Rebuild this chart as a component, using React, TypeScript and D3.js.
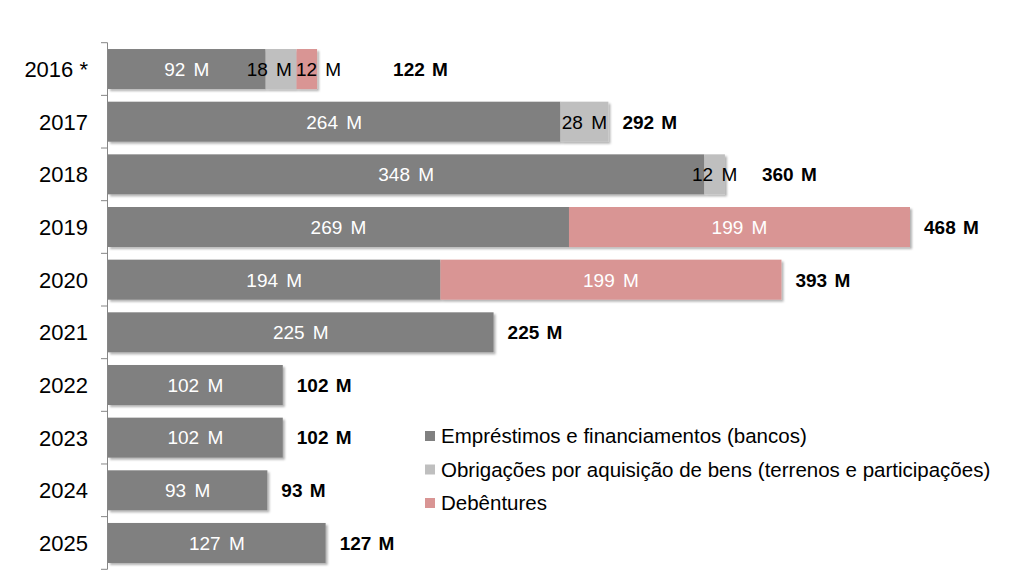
import React from "react";
import * as d3 from "d3";

const years = ["2016 *", "2017", "2018", "2019", "2020", "2021", "2022", "2023", "2024", "2025"];
const emprestimos = [92, 264, 348, 269, 194, 225, 102, 102, 93, 127];
const obrigacoes = [18, 28, 12, 0, 0, 0, 0, 0, 0, 0];
const debentures = [12, 0, 0, 199, 199, 0, 0, 0, 0, 0];
const seriesNames = [
  "Empréstimos e financiamentos (bancos)",
  "Obrigações por aquisição de bens (terrenos e participações)",
  "Debêntures",
];
const seriesKeys = ["emp", "obr", "deb"];

const COLORS: Record<string, string> = { emp: "#808080", obr: "#bfbfbf", deb: "#d99594" };
const TEXT_COLORS: Record<string, string> = { emp: "#ffffff", obr: "#000000", deb: "#ffffff" };
// extra push of total label (layout tuning, where segment labels overflow)
const TOTAL_EXTRA: Record<string, number> = { "2016 *": 62, "2018": 23 };

const W = 1024;
const H = 585;
const FONT = "'Liberation Sans', Arial, sans-serif";
const SEG_FONT = 19;
const WORD_SP = 3;

function textWidth(s: string, size: number) {
  let w = 0;
  for (const ch of s) {
    if (ch === " ") w += 0.278 + WORD_SP / size;
    else if (ch === "M") w += 0.833;
    else w += 0.556;
  }
  return w * size;
}

export default function App() {
  const rows = years.map((y, i) => ({
    year: y,
    emp: emprestimos[i],
    obr: obrigacoes[i],
    deb: debentures[i],
  }));
  const stack = d3.stack<any>().keys(seriesKeys)(rows);
  const maxTotal = d3.max(rows, (r) => r.emp + r.obr + r.deb) as number;

  const x = d3.scaleLinear().domain([0, maxTotal]).range([108, 910]);
  const y = d3
    .scaleBand<string>()
    .domain(years)
    .range([42.7, 569.3])
    .paddingInner(0.24)
    .paddingOuter(0.12);

  const step = y.step();
  const rangeTop = 42.7;

  const labels: { x: number; y: number; text: string; color: string }[] = [];
  const totals: { x: number; y: number; text: string }[] = [];
  years.forEach((yr, i) => {
    const cy = (y(yr) as number) + y.bandwidth() / 2;
    const items: { c: number; w: number; text: string; color: string }[] = [];
    stack.forEach((s) => {
      const d = s[i];
      const v = d[1] - d[0];
      if (v <= 0) return;
      const text = `${v} M`;
      const segW = x(d[1]) - x(d[0]);
      const tw = textWidth(text, SEG_FONT);
      items.push({
        c: (x(d[0]) + x(d[1])) / 2,
        w: tw,
        text,
        color: segW < tw ? "#000000" : TEXT_COLORS[s.key],
      });
    });
    for (let k = 1; k < items.length; k++) {
      const a = items[k - 1];
      const b = items[k];
      const overlap = a.c + a.w / 2 + 4 - (b.c - b.w / 2);
      if (overlap > 0) {
        a.c -= overlap / 2;
        b.c += overlap / 2;
      }
    }
    items.forEach((it) => labels.push({ x: it.c, y: cy, text: it.text, color: it.color }));
    const total = rows[i].emp + rows[i].obr + rows[i].deb;
    totals.push({ x: x(total) + 14 + (TOTAL_EXTRA[yr] || 0), y: cy, text: `${total} M` });
  });

  const ticks = d3.range(years.length + 1).map((k) => rangeTop + k * step);

  return (
    <div style={{ position: "fixed", left: 0, top: 0 }}>
      <svg width={W} height={H} style={{ display: "block", background: "#fff" }} fontFamily={FONT}>
        <defs>
          <filter id="shadow" x="-5%" y="-20%" width="110%" height="160%">
            <feDropShadow dx="2" dy="2" stdDeviation="1.2" floodColor="#000" floodOpacity="0.3" />
          </filter>
        </defs>
        <g filter="url(#shadow)">
          {stack.map((s) => (
            <g key={s.key} fill={COLORS[s.key]}>
              {s.map((d, i) =>
                d[1] - d[0] > 0 ? (
                  <rect
                    key={i}
                    x={x(d[0])}
                    y={y(years[i])}
                    width={x(d[1]) - x(d[0])}
                    height={y.bandwidth()}
                  />
                ) : null
              )}
            </g>
          ))}
        </g>
        <g stroke="#868686" strokeWidth={1}>
          <line x1={107.5} x2={107.5} y1={ticks[0]} y2={ticks[ticks.length - 1]} />
          {ticks.map((t, k) => (
            <line key={k} x1={101} x2={107.5} y1={t} y2={t} />
          ))}
        </g>
        {years.map((yr) => (
          <text
            key={yr}
            x={88}
            y={(y(yr) as number) + y.bandwidth() / 2}
            dy="0.36em"
            textAnchor="end"
            fontSize={22}
            fill="#000"
          >
            {yr}
          </text>
        ))}
        {labels.map((l, k) => (
          <text
            key={k}
            x={l.x}
            y={l.y}
            dy="0.36em"
            textAnchor="middle"
            fontSize={SEG_FONT}
            fill={l.color}
            style={{ wordSpacing: `${WORD_SP}px` }}
          >
            {l.text}
          </text>
        ))}
        {totals.map((t, k) => (
          <text
            key={k}
            x={t.x}
            y={t.y}
            dy="0.36em"
            fontSize={19}
            fontWeight="bold"
            fill="#000"
            style={{ wordSpacing: "2px" }}
          >
            {t.text}
          </text>
        ))}
        {seriesKeys.map((k, i) => {
          const ly = 436 + i * 33.5;
          return (
            <g key={k}>
              <rect x={425} y={ly - 5} width={10} height={10} fill={COLORS[k]} />
              <text x={441} y={ly} dy="0.36em" fontSize={20.5} fill="#000">
                {seriesNames[i]}
              </text>
            </g>
          );
        })}
      </svg>
    </div>
  );
}
